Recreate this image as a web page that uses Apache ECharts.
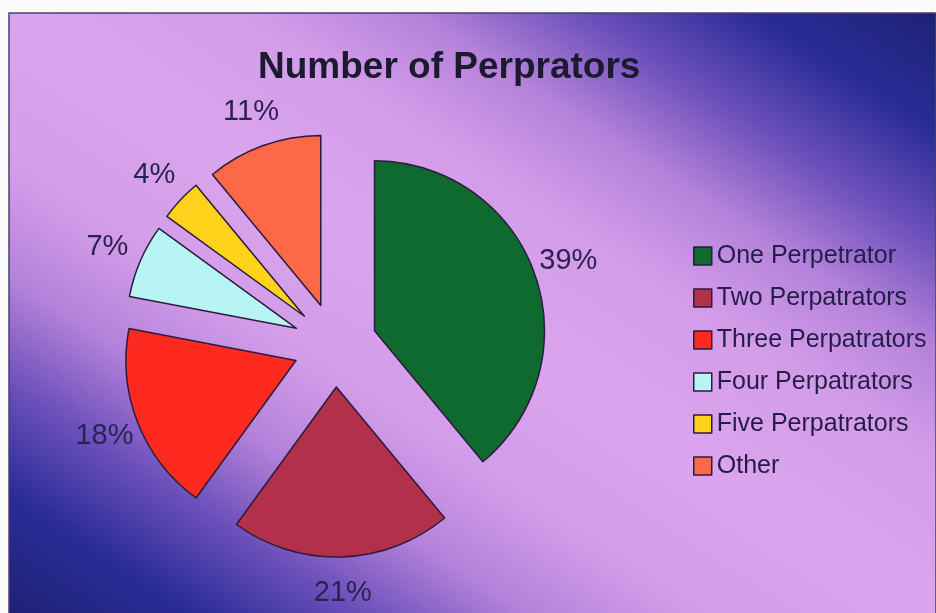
<!DOCTYPE html>
<html>
<head>
<meta charset="utf-8">
<title>Number of Perprators</title>
<script src="https://cdn.jsdelivr.net/npm/echarts@6/dist/echarts.min.js"></script>
<style>
  html, body { margin: 0; padding: 0; background: #fbfbfb; }
  #main { width: 936px; height: 613px; }
</style>
</head>
<body>
<div id="main"></div>
<script>
const categories = ['One Perpetrator', 'Two Perpatrators', 'Three Perpatrators', 'Four Perpatrators', 'Five Perpatrators', 'Other'];
const percents = [39, 21, 18, 7, 4, 11];
const sliceColors = ['#0e6a2f', '#b3304a', '#ff2a1f', '#b9f4f4', '#ffd21c', '#fc6848'];

const fontFamily = "'Liberation Sans', Arial, Helvetica, sans-serif";
const inkColor = '#241d48';
const edgeColor = '#2a1c3c';

// PowerPoint style diagonal fill: navy corners top-right / bottom-left, light violet band
const bgFill = new echarts.graphic.LinearGradient(746, -110, 198, 736, [
  { offset: 0, color: '#1d2276' },
  { offset: 0.1, color: '#2a2c96' },
  { offset: 0.19, color: '#6b4fba' },
  { offset: 0.28, color: '#b482da' },
  { offset: 0.37, color: '#d39ce9' },
  { offset: 0.5, color: '#dba4ee' },
  { offset: 0.63, color: '#d39ce9' },
  { offset: 0.72, color: '#b482da' },
  { offset: 0.81, color: '#6b4fba' },
  { offset: 0.9, color: '#2a2c96' },
  { offset: 1, color: '#1d2276' }
], true);

const chart = echarts.init(document.getElementById('main'), null, { renderer: 'canvas' });

const sliceData = categories.map((name, i) => ({
  name: name,
  value: percents[i],
  selected: true,
  itemStyle: { color: sliceColors[i] }
}));

// second, invisible ring only carries the percent labels around the pie
const labelData = categories.map((name, i) => ({
  name: name,
  value: percents[i]
}));

chart.setOption({
  animation: false,
  graphic: [{
    type: 'rect',
    silent: true,
    z: -10,
    shape: { x: 9, y: 13, width: 927, height: 601 },
    style: { fill: bgFill, stroke: '#4a4070', lineWidth: 1.5 }
  }],
  title: {
    text: 'Number of Perprators',
    left: 258,
    top: 49,
    padding: 0,
    textStyle: { fontFamily: fontFamily, fontSize: 37, fontWeight: 'bold', color: '#1c1a30' }
  },
  legend: {
    orient: 'vertical',
    left: 693,
    top: 242,
    padding: 0,
    itemWidth: 18,
    itemHeight: 18,
    itemGap: 14,
    icon: 'rect',
    data: categories,
    itemStyle: { borderColor: edgeColor, borderWidth: 1.5 },
    textStyle: { fontFamily: fontFamily, fontSize: 25, lineHeight: 28, color: inkColor }
  },
  series: [{
    name: 'Perpetrators',
    type: 'pie',
    center: [335, 345],
    radius: [0, 170],
    startAngle: 90,
    clockwise: true,
    selectedMode: 'multiple',
    selectedOffset: 42,
    silent: true,
    label: { show: false },
    labelLine: { show: false },
    itemStyle: { borderColor: edgeColor, borderWidth: 1.5 },
    select: { itemStyle: { borderColor: edgeColor, borderWidth: 1.5 } },
    emphasis: { disabled: true },
    data: sliceData
  }, {
    name: 'labels',
    type: 'pie',
    center: [335, 345],
    radius: [206, 284],
    startAngle: 90,
    clockwise: true,
    silent: true,
    z: 3,
    itemStyle: { color: 'rgba(0,0,0,0)', borderWidth: 0 },
    label: {
      show: true,
      position: 'inside',
      formatter: '{c}%',
      fontFamily: fontFamily,
      fontSize: 29,
      color: '#2a2352'
    },
    labelLine: { show: false },
    emphasis: { disabled: true },
    data: labelData
  }]
});
</script>
</body>
</html>
